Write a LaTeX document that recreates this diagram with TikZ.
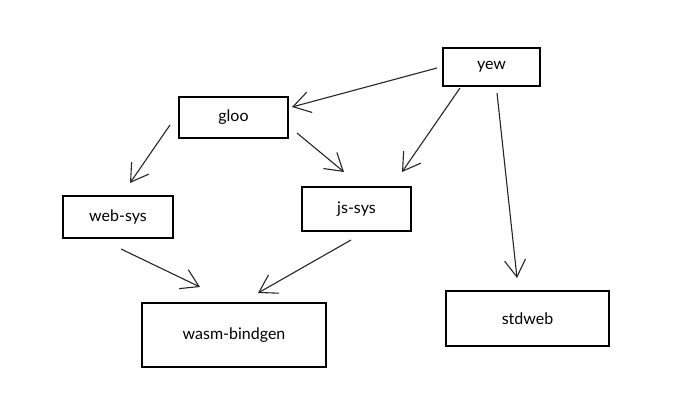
\documentclass[tikz,border=0pt]{standalone}
\usepackage{fontspec}
\setmainfont{Lato}
\usetikzlibrary{arrows.meta}
\begin{document}
\begin{tikzpicture}[x=1pt,y=-1pt,
  box/.style={draw=black, line width=1.2pt, minimum height=#1, inner sep=0pt, font=\fontsize{16}{19}\selectfont},
  dep/.style={draw=black!85, line width=1.1pt, -{Straight Barb[length=17pt,width=21pt]}}]
\useasboundingbox[fill=white] (0,0) rectangle (684,419);
\node[box=38pt, minimum width=97pt] (yew) at (491.5,67) {yew};
\node[box=41pt, minimum width=109pt] (gloo) at (233.5,117.5) {gloo};
\node[box=42pt, minimum width=110pt] (websys) at (118,217) {web-sys};
\node[box=44pt, minimum width=109pt] (jssys) at (356.5,209) {js-sys};
\node[box=64pt, minimum width=184pt] (wasm) at (234,335) {wasm-bindgen};
\node[box=55pt, minimum width=163pt] (stdweb) at (527.5,318.5) {stdweb};
\coordinate (a1) at (437,68); \coordinate (a2) at (292,107);
\draw[dep] (a1) -- (a2);
\coordinate (b1) at (460,88); \coordinate (b2) at (402,172);
\draw[dep] (b1) -- (b2);
\coordinate (c1) at (497,93); \coordinate (c2) at (517,278);
\draw[dep] (c1) -- (c2);
\coordinate (d1) at (170,125); \coordinate (d2) at (130,183);
\draw[dep] (d1) -- (d2);
\coordinate (e1) at (297,133); \coordinate (e2) at (344,172);
\draw[dep] (e1) -- (e2);
\coordinate (f1) at (121,249); \coordinate (f2) at (200,287);
\draw[dep] (f1) -- (f2);
\coordinate (g1) at (351,240); \coordinate (g2) at (258,293);
\draw[dep] (g1) -- (g2);
\end{tikzpicture}
\end{document}
